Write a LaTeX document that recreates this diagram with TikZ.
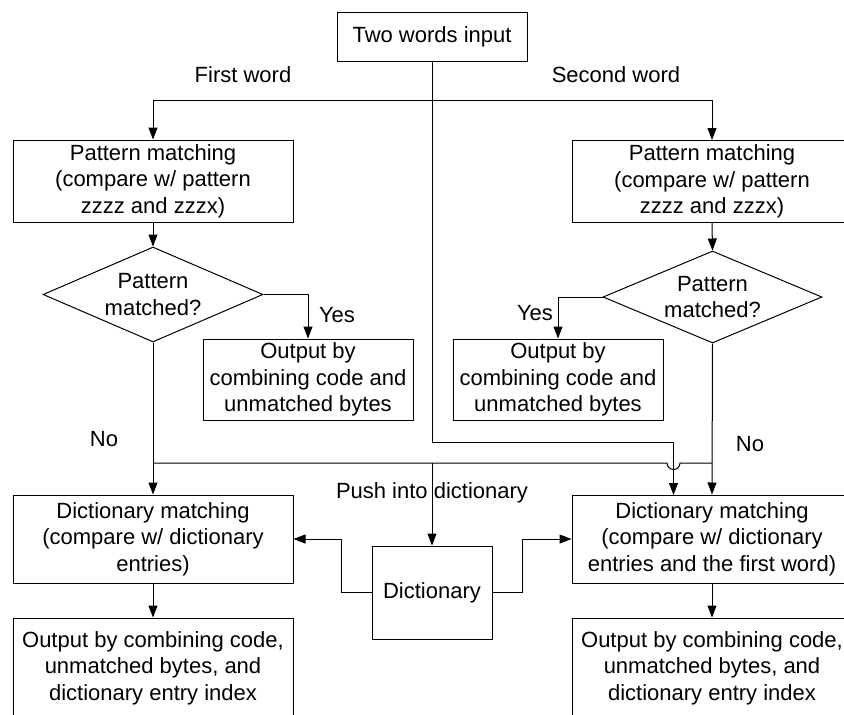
\documentclass[tikz,border=0pt]{standalone}
\usepackage{fontspec}
\setmainfont{Liberation Sans}
\usetikzlibrary{arrows.meta,shapes.geometric}
\newcommand\lbl{\fontsize{22}{26.5}\selectfont}
\begin{document}
\begin{tikzpicture}[x=1pt,y=-1pt,
  line width=1pt,
  box/.style={draw, rectangle, inner sep=0pt, align=center, font=\lbl},
  dia/.style={draw, diamond, inner sep=0pt},
  txt/.style={inner sep=0pt, align=center, font=\lbl},
  arr/.style={-{Triangle[length=12pt,width=9pt]}}]
\useasboundingbox (0,0) rectangle (844,715);
\clip (0,0) rectangle (844,715);

% boxes
\node[box, minimum width=190, minimum height=49] (in) at (432,36.5) {Two words input};

\node[box, minimum width=280, minimum height=82] (p1) at (153,181)
  {Pattern matching\\(compare w/ pattern\\zzzz and zzzx)};
\node[dia, minimum width=220, minimum height=95] (d1) at (153,294.5) {};
\node[txt] (d1t) at (d1.center) {Pattern\\matched?};
\node[box, minimum width=210, minimum height=81] (o1) at (308,379.5)
  {Output by\\combining code and\\unmatched bytes};

\node[box, minimum width=280, minimum height=82] (p2) at (712,181.5)
  {Pattern matching\\(compare w/ pattern\\zzzz and zzzx)};
\node[dia, minimum width=219, minimum height=92] (d2) at (712.5,297) {};
\node[txt] (d2t) at (d2.center) {Pattern\\matched?};
\node[box, minimum width=210, minimum height=81] (o2) at (558,379.5)
  {Output by\\combining code and\\unmatched bytes};

\node[box, minimum width=280, minimum height=88] (dm1) at (153,539)
  {Dictionary matching\\(compare w/ dictionary\\entries)};
\node[box, minimum width=280, minimum height=100] (out1) at (153,668)
  {Output by combining code,\\unmatched bytes, and\\dictionary entry index};

\node[box, minimum width=280, minimum height=88] (dm2) at (712,539)
  {Dictionary matching\\(compare w/ dictionary\\entries and the first word)};
\node[box, minimum width=280, minimum height=100] (out2) at (712,668)
  {Output by combining code,\\unmatched bytes, and\\dictionary entry index};

\node[box, minimum width=120, minimum height=93] (dict) at (432,592.5) {Dictionary};

% junction points
\coordinate (split) at (432,100);
\coordinate (turn) at (432,442);
\coordinate (bypass) at (673.5,495);
\coordinate (busL) at (153,463);
\coordinate (busR) at (712,463);
\coordinate (push) at (432,463);

% split of the two words
\draw (in.south) -- (split);
\draw[arr] (split) -| (p1.north);
\draw[arr] (split) -| (p2.north);
\draw[arr] (split) -- (turn) -| (bypass);

% first word
\draw[arr] (p1.south) -- (d1.north);
\draw[arr] (d1.east) -| (o1.north);
\draw[arr] (d1.south) -- (dm1.north);
\draw[arr] (dm1.south) -- (out1.north);

% second word
\draw[arr] (p2.south) -- (d2.north);
\draw[arr] (d2.west) -| (o2.north);
\draw[arr] (d2.south) -- (dm2.north);
\draw[arr] (dm2.south) -- (out2.north);

% bus with a hop over the bypass line
\draw (busL) -- (667,463) arc[start angle=180, end angle=0, radius=6.5] -- (busR);
\draw[arr] (push) -- (dict.north);

% dictionary feeds
\draw[arr] (dict.west) -- ++(-30,0) |- (dm1.east);
\draw[arr] (dict.east) -- ++(30,0) |- (dm2.west);

% labels
\node[txt] (lfirst) at (243,75) {First word};
\node[txt] (lsecond) at (616,75) {Second word};
\node[txt] (lyes1) at (337,315) {Yes};
\node[txt] (lyes2) at (535,313) {Yes};
\node[txt] (lno1) at (104,439) {No};
\node[txt] (lno2) at (750,444) {No};
\node[txt] (lpush) at (432,493) {Push into dictionary};
\end{tikzpicture}
\end{document}
